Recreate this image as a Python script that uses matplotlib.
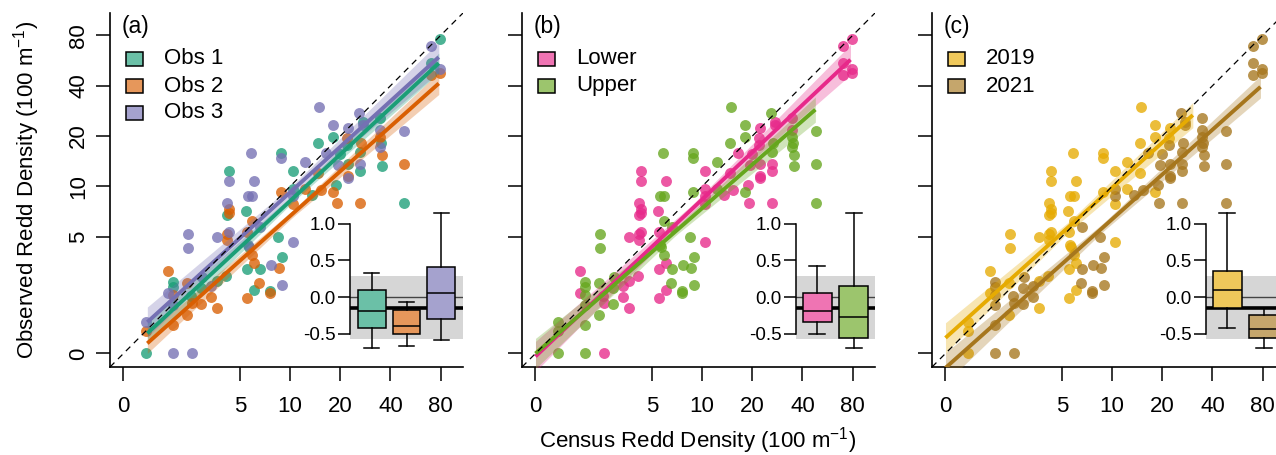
import numpy as np
import matplotlib
matplotlib.use("Agg")
import matplotlib.pyplot as plt
from matplotlib.colors import to_rgb
from matplotlib.patches import Rectangle

plt.rcParams["font.family"] = ["Liberation Sans", "DejaVu Sans"]
plt.rcParams["mathtext.fontset"] = "custom"
plt.rcParams["mathtext.rm"] = "Liberation Sans"

# ---- redd densities (100 m-1); census vs observed, per observer ----
obs1_census = [1.36, 1.97, 1.97, 2.53, 2.92, 3.66, 4.1, 4.16, 4.28, 5.4, 5.7, 5.5, 6.07, 6.6, 7.6, 8.5, 9.0, 8.8,
               10.4, 10.4, 13.5, 14.8, 18.1, 18.8, 19.9, 22, 22.3, 26.4, 26.4, 27.4, 34.5, 35.3, 35.8, 48, 70, 79]
obs1_observed = [0, 2.69, 2.49, 2.2, 2.45, 2.73, 2.9, 6.7, 12.4, 7.1, 4.35, 3.2, 2.4, 3.2, 2.37, 5.0, 3.76, 15.8,
                 12.4, 9.6, 8.9, 18.3, 19.7, 10.2, 15.6, 17.7, 13.6, 12.3, 16.1, 24.4, 25.6, 18.1, 13.3, 8.0, 55, 76]
obs1_reach = list("UUULULLLLLULLUUUUULLLUULLLLLULLUUULL")
obs1_year = [2019, 2021, 2021, 2021, 2021, 2019, 2019, 2019, 2019, 2019,
             2019, 2019, 2019, 2021, 2021, 2021, 2021, 2019, 2019, 2021,
             2021, 2019, 2019, 2021, 2021, 2021, 2021, 2021, 2021, 2021,
             2021, 2021, 2021, 2021, 2021, 2021]

obs2_census = [1.37, 1.86, 1.97, 1.97, 2.4, 2.4, 2.57, 2.92, 3.34, 3.66, 4.16, 4.2, 4.28, 4.28, 5.5, 5.5, 5.9, 5.9,
               6.1, 6.5, 7.6, 8.6, 8.8, 10.4, 12.3, 14.8, 15.4, 18.1, 19, 22, 22.3, 26.2, 26.8, 34.5, 35.8, 48, 70, 79]
obs2_observed = [1.37, 3.13, 1.48, 2.24, 2.63, 1.7, 2.0, 1.98, 2.19, 1.86, 4.8, 5.2, 7.3, 6.9, 2.14, 5.3, 6.2, 3.9,
                 3.5, 2.63, 2.29, 3.26, 9.2, 7.8, 9.6, 12.0, 9.5, 9.2, 8.0, 19.4, 11.6, 8.0, 18.1, 19.8, 15.4, 13.6,
                 46.5, 48]
obs2_reach = list("ULUUUULULLLLLLLLUULUUUULULLULLLLUUUULL")
obs2_year = [2019, 2019, 2021, 2021, 2019, 2019, 2021, 2021, 2021, 2019,
             2019, 2019, 2019, 2019, 2019, 2019, 2019, 2019, 2019, 2021,
             2021, 2021, 2019, 2019, 2019, 2019, 2021, 2019, 2021, 2019,
             2021, 2021, 2021, 2021, 2021, 2021, 2021, 2021]

obs3_census = [1.36, 1.97, 2.57, 1.86, 1.97, 2.43, 2.43, 2.95, 3.34, 3.63, 4.16, 4.28, 4.3, 5.8, 6.07, 5.55, 5.9,
               5.6, 6.6, 7.7, 8.8, 9.0, 10.4, 10.4, 12.3, 14.9, 16.5, 18, 19.4, 22.3, 22.3, 26, 26.4, 27.4, 34.5,
               34.5, 48, 70, 79]
obs3_observed = [1.55, 0, 0, 2.29, 1.95, 5.2, 4.26, 2.88, 2.53, 4.95, 8.0, 10.7, 5.35, 15.9, 10.8, 8.8, 8.7, 4.46,
                 5.7, 3.39, 14.7, 2.57, 8.7, 4.66, 13.9, 30, 15.8, 23.3, 13.4, 22.3, 11.2, 27.4, 13.7, 23.3, 21.7,
                 17.3, 21.3, 69, 50.5]
obs3_reach = list("UULLUUUULLLLLULUUUUUUULLUULULLLULLLUULL")
obs3_year = [2019, 2021, 2021, 2019, 2021, 2019, 2019, 2021, 2021, 2019,
             2019, 2019, 2019, 2019, 2019, 2019, 2019, 2019, 2021, 2021,
             2019, 2021, 2021, 2019, 2019, 2019, 2021, 2019, 2021, 2019,
             2021, 2021, 2021, 2021, 2021, 2021, 2021, 2021, 2021]

# ---- fitted lines: x range, y at ends, CI half width (doublings) at start/mid/end ----
fit_obs = {"Obs 1": ([1.39, 78], [1.32, 54.6], [0.22, 0.07, 0.2]),
           "Obs 2": ([1.39, 78], [1.15, 41.3], [0.2, 0.07, 0.22]),
           "Obs 3": ([1.39, 78], [1.54, 59.3], [0.3, 0.1, 0.3])}
fit_reach = {"Lower": ([1, 77.7], [0.96, 57.3], [0.3, 0.08, 0.3]),
             "Upper": ([1, 47.8], [1.0, 28.8], [0.3, 0.08, 0.25])}
fit_year = {"2019": ([1, 30.5], [1.24, 26.7], [0.3, 0.1, 0.25]),
            "2021": ([1, 77.7], [0.82, 39.4], [0.3, 0.08, 0.22])}

# ---- inset boxplots of log ratio ----
box_obs = {"Obs 1": [-0.70, -0.42, -0.185, 0.09, 0.33],
           "Obs 2": [-0.67, -0.51, -0.39, -0.18, -0.07],
           "Obs 3": [-0.58, -0.30, 0.05, 0.41, 1.14]}
box_reach = {"Lower": [-0.50, -0.34, -0.195, 0.06, 0.42],
             "Upper": [-0.70, -0.56, -0.27, 0.15, 1.14]}
box_year = {"2019": [-0.42, -0.145, 0.09, 0.36, 1.14],
            "2021": [-0.70, -0.56, -0.44, -0.25, -0.145]}
band_lo, band_hi = -0.57, 0.28
mean_ratio = -0.145

ticks = [1, 5, 10, 20, 40, 80]
tick_labels = ["0", "5", "10", "20", "40", "80"]

col_obs = {"Obs 1": "#1B9E77", "Obs 2": "#D95F02", "Obs 3": "#7570B3"}
col_reach = {"Lower": "#E7298A", "Upper": "#66A61E"}
col_year = {"2019": "#E6AB02", "2021": "#A6761D"}

W, H = 1276, 455
fig = plt.figure(figsize=(W / 100, H / 100), dpi=100)


def light(c, a=0.65):
    r = np.array(to_rgb(c))
    return tuple(a * r + (1 - a) * 1.0)


def pos(v):
    v = np.asarray(v, float)
    return np.where(v > 0, v, 1.0)   # zero plotted at the "0" tick


census = np.array(obs1_census + obs2_census + obs3_census)
observed = np.array(obs1_observed + obs2_observed + obs3_observed)
reach = np.array(obs1_reach + obs2_reach + obs3_reach)
year = np.array([str(y) for y in obs1_year + obs2_year + obs3_year])


def main_axes(left_px, letter, ylabels):
    ax = fig.add_axes([left_px / W, (H - 367) / H, 353 / W, 354 / H])
    ax.set_xscale("log", base=2)
    ax.set_yscale("log", base=2)
    ax.set_xlim(0.83, 109)
    ax.set_ylim(0.83, 109)
    ax.set_xticks(ticks, tick_labels)
    ax.set_yticks(ticks, tick_labels if ylabels else [""] * 6)
    ax.minorticks_off()
    for s in ["top", "right"]:
        ax.spines[s].set_visible(False)
    for s in ["left", "bottom"]:
        ax.spines[s].set_linewidth(1.2)
    ax.tick_params(axis="x", direction="out", length=10, width=1.1, labelsize=16, pad=11)
    ax.tick_params(axis="y", direction="out", length=10, width=1.1, labelsize=16, pad=5)
    for t in ax.get_yticklabels():
        t.set_rotation(90)
        t.set_va("center")
    ax.plot([0.83, 109], [0.83, 109], color="black", lw=0.9, ls=(0, (5, 4)), zorder=5)
    ax.text(12 / 353, (367 - 26) / 354, letter, transform=ax.transAxes, fontsize=16.5, va="center", ha="left")
    return ax


def legend(ax, cols):
    for i, (lab, c) in enumerate(cols.items()):
        yc = 59 + 27 * i
        ax.add_patch(Rectangle((16 / 353, (367 - yc - 7) / 354), 17 / 353, 14 / 354, transform=ax.transAxes,
                               facecolor=light(c), edgecolor="black", lw=1.1, clip_on=False, zorder=6))
        ax.text(54 / 353, (367 - yc) / 354, lab, transform=ax.transAxes, fontsize=16, va="center", ha="left")


def fit(ax, spec, c):
    (x0, x1), (y0, y1), hw = spec
    xs = np.geomspace(x0, x1, 60)
    f = np.log(xs / x0) / np.log(x1 / x0)
    ys = y0 * (y1 / y0) ** f
    w = np.interp(f, [0, 0.5, 1], hw)
    ax.fill_between(xs, ys / 2 ** w, ys * 2 ** w, color=c, alpha=0.3, lw=0, zorder=3)
    ax.plot([x0, x1], [y0, y1], color=c, lw=2.8, zorder=4, solid_capstyle="butt")


def inset(left_px, width_px, boxes, cols):
    ylo, yhi = -0.8, 1.25
    top = 297 - yhi * 73.3
    bot = 297 - ylo * 73.3
    ia = fig.add_axes([left_px / W, (H - bot) / H, width_px / W, (bot - top) / H])
    ia.patch.set_alpha(0)
    n = len(boxes)
    ia.set_xlim(0.5 - 0.04 * n, n + 0.5 + 0.04 * n)
    ia.set_ylim(ylo, yhi)
    ia.axhspan(band_lo, band_hi, color="#d6d6d6", lw=0, zorder=0)
    ia.axhline(0, color="#444444", lw=1.0, zorder=1)
    ia.axhline(mean_ratio, color="black", lw=2.6, zorder=1)
    stats = [dict(whislo=b[0], q1=b[1], med=b[2], q3=b[3], whishi=b[4], fliers=[]) for b in boxes.values()]
    bp = ia.bxp(stats, positions=range(1, n + 1), widths=0.8, capwidths=0.45, patch_artist=True,
                showfliers=False, manage_ticks=False,
                boxprops=dict(edgecolor="black", lw=1.1),
                medianprops=dict(color="black", lw=1.1),
                whiskerprops=dict(color="black", lw=1.1),
                capprops=dict(color="black", lw=1.1))
    for patch, lab in zip(bp["boxes"], boxes):
        patch.set_facecolor(light(cols[lab]))
    for art in bp["boxes"] + bp["medians"] + bp["whiskers"] + bp["caps"]:
        art.set_zorder(3)
    for s in ["top", "right", "bottom"]:
        ia.spines[s].set_visible(False)
    ia.spines["left"].set_bounds(-0.5, 1.0)
    ia.spines["left"].set_linewidth(1.1)
    ia.set_xticks([])
    ia.set_yticks([-0.5, 0, 0.5, 1.0], ["-0.5", "0.0", "0.5", "1.0"])
    ia.tick_params(axis="y", direction="out", length=8.5, width=1.1, labelsize=13.5, pad=2)


# (a) observers
ax = main_axes(110, "(a)", True)
for lab, cx, ob in [("Obs 1", obs1_census, obs1_observed), ("Obs 2", obs2_census, obs2_observed),
                    ("Obs 3", obs3_census, obs3_observed)]:
    ax.scatter(pos(cx), pos(ob), s=62, color=col_obs[lab], alpha=0.78, lw=0, zorder=2)
for lab in fit_obs:
    fit(ax, fit_obs[lab], col_obs[lab])
legend(ax, col_obs)
inset(350, 113, box_obs, col_obs)

# (b) reach
ax = main_axes(522, "(b)", False)
for lab, key in [("Lower", "L"), ("Upper", "U")]:
    m = reach == key
    ax.scatter(pos(census[m]), pos(observed[m]), s=62, color=col_reach[lab], alpha=0.78, lw=0, zorder=2)
for lab in fit_reach:
    fit(ax, fit_reach[lab], col_reach[lab])
legend(ax, col_reach)
inset(796, 79, box_reach, col_reach)

# (c) year
ax = main_axes(932, "(c)", False)
for lab in ["2019", "2021"]:
    m = year == lab
    ax.scatter(pos(census[m]), pos(observed[m]), s=62, color=col_year[lab], alpha=0.78, lw=0, zorder=2)
for lab in fit_year:
    fit(ax, fit_year[lab], col_year[lab])
legend(ax, col_year)
inset(1206, 79, box_year, col_year)

fig.text(27 / W, 1 - 190 / H, r"Observed Redd Density (100 m$^{\mathregular{-1}}$)", rotation=90,
         ha="center", va="center", fontsize=16)
fig.text(698 / W, (H - 447) / H, r"Census Redd Density (100 m$^{\mathregular{-1}}$)",
         ha="center", va="baseline", fontsize=16)

fig.savefig("out.png", dpi=100)
